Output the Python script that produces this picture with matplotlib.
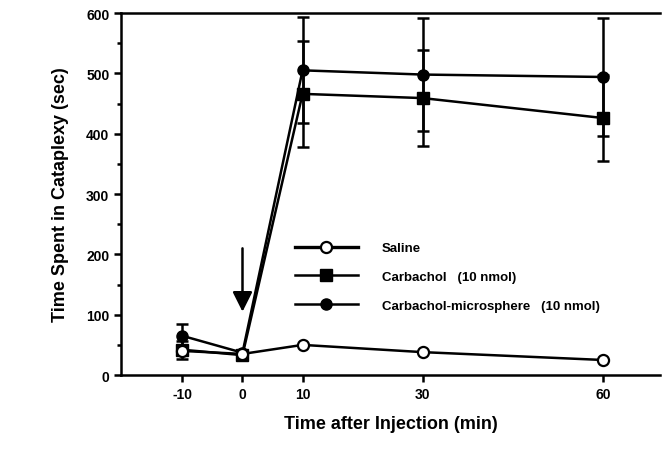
import numpy as np
import matplotlib.pyplot as plt
from matplotlib.lines import Line2D

# values
time = [-10, 0, 10, 30, 60]
saline = [40, 35, 50, 38, 25]
carb = [42, 33, 466, 459, 426]
carb_err = [15, 5, 88, 80, 71]
micro = [65, 37, 505, 498, 494]
micro_err = [20, 5, 88, 93, 98]

xticks = [-10, 0, 10, 30, 60]
yticks = [0, 100, 200, 300, 400, 500, 600]

plt.rcParams['font.family'] = ['Liberation Sans', 'DejaVu Sans']
plt.rcParams['font.weight'] = 'bold'

fig = plt.figure(figsize=(6.62, 4.52), dpi=100)
ax = fig.add_axes([0.183, 0.168, 0.814, 0.801])

ax.errorbar(time, micro, yerr=micro_err, color='black', marker='o', ms=8,
            lw=1.8, elinewidth=1.8, capsize=4, capthick=1.8, zorder=3)
ax.errorbar(time, carb, yerr=carb_err, color='black', marker='s', ms=8,
            lw=1.8, elinewidth=1.8, capsize=4, capthick=1.8, zorder=3)
ax.plot(time, saline, color='black', marker='o', ms=8, mfc='white', mew=1.6,
        lw=1.8, zorder=4)

# injection arrow
ax.annotate('', xy=(0, 105), xytext=(0, 210),
            arrowprops=dict(arrowstyle='-|>', color='black', lw=1.8,
                            mutation_scale=30, shrinkA=0, shrinkB=0))

ax.set_xlim(-20.2, 69.5)
ax.set_ylim(0, 600)
ax.set_xticks(xticks)
ax.set_xticklabels([str(t) for t in xticks])
ax.set_yticks(yticks)
ax.set_yticks(np.arange(50, 600, 100), minor=True)
ax.tick_params(direction='out', width=1.8, length=5, labelsize=10)
ax.tick_params(which='minor', direction='out', width=1.8, length=3)

for s in ['left', 'bottom', 'top']:
    ax.spines[s].set_linewidth(1.8)
ax.spines['right'].set_visible(False)

ax.set_xlabel('Time after Injection (min)', fontsize=13, fontweight='bold', labelpad=10)
ax.set_ylabel('Time Spent in Cataplexy (sec)', fontsize=13, fontweight='bold', labelpad=12)

handles = [
    Line2D([], [], color='black', lw=2.4, marker='o', ms=8, mfc='white', mew=1.6),
    Line2D([], [], color='black', lw=1.8, marker='s', ms=8),
    Line2D([], [], color='black', lw=1.8, marker='o', ms=8),
]
labels = ['Saline', 'Carbachol   (10 nmol)', 'Carbachol-microsphere   (10 nmol)']
ax.legend(handles, labels, frameon=False, loc='upper left',
          bbox_to_anchor=(0.3, 0.40), handlelength=4.8, fontsize=9.5,
          labelspacing=1.25, handletextpad=1.8)

fig.savefig('out.png', dpi=100)
